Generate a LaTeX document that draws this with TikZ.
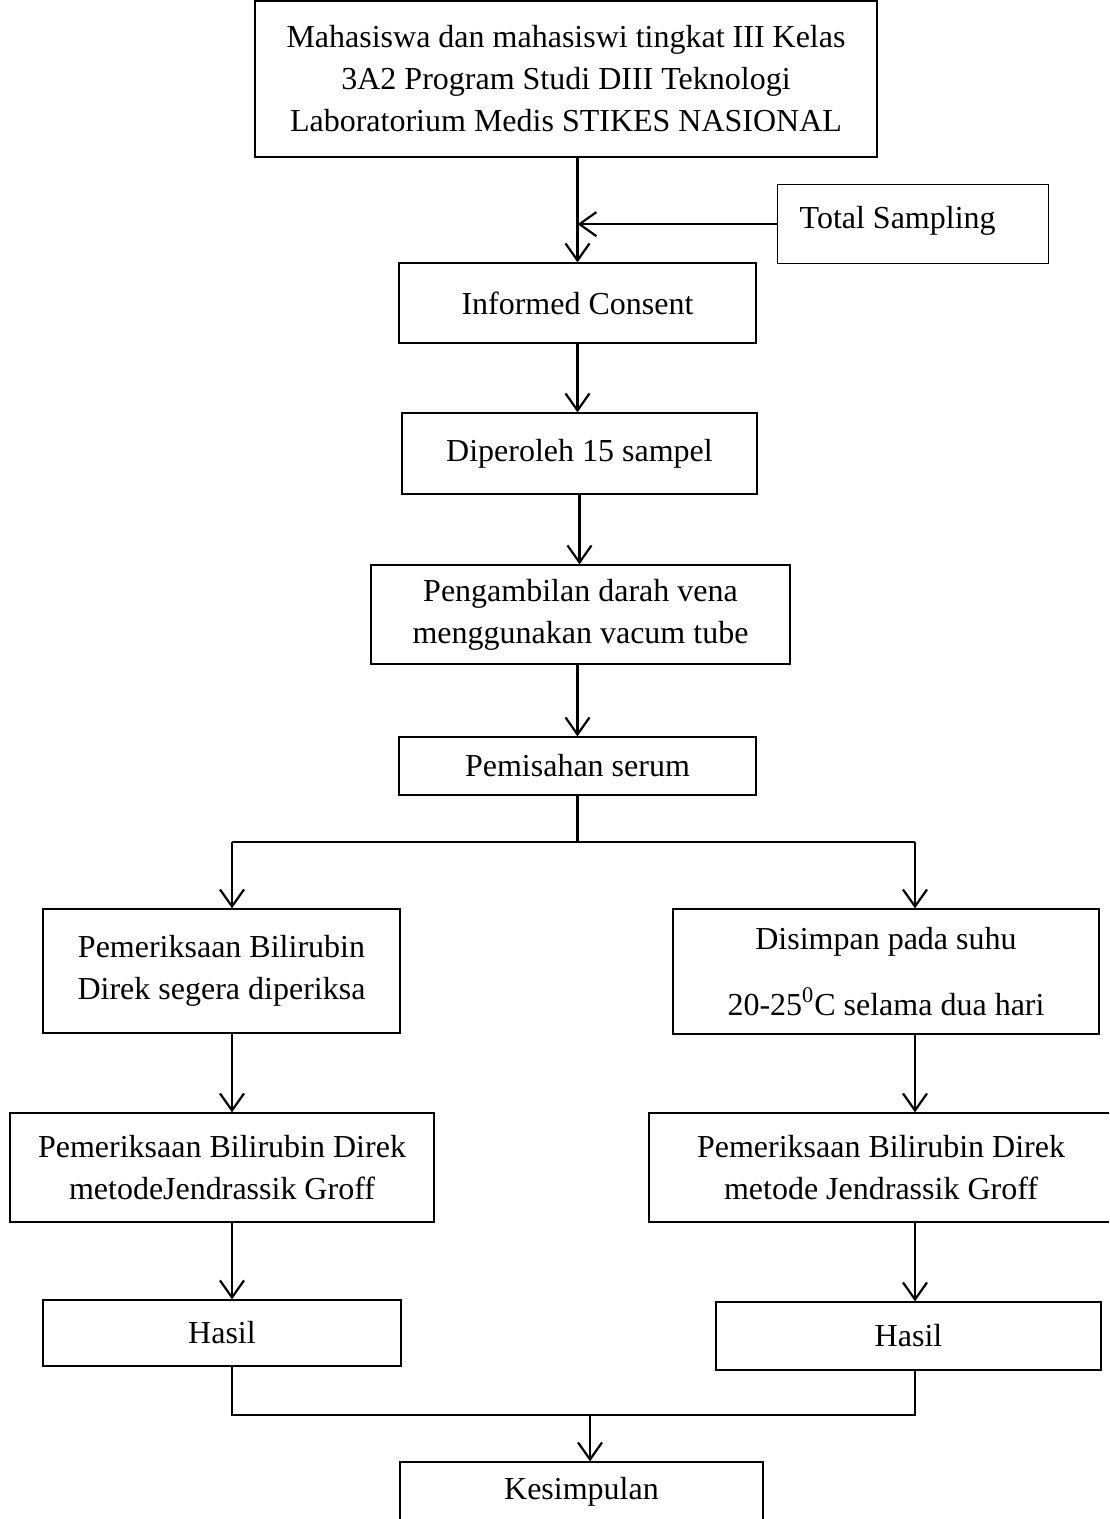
\documentclass[tikz,border=0pt]{standalone}
\usepackage{fontspec}
\setmainfont{Liberation Serif}
\usetikzlibrary{arrows.meta}

\begin{document}
\begin{tikzpicture}[
  x=0.5pt,y=-0.5pt,
  font=\fontsize{16}{21}\selectfont,
  box/.style={draw,line width=0.65pt,align=center,inner sep=0pt},
  ar/.style={-{Straight Barb[length=8.5pt,width=12pt,line width=1.1pt]},line width=1.1pt},
  ln/.style={line width=1.1pt}
]
\useasboundingbox (0,0) rectangle (1109,1519);
\clip (0,0) rectangle (1109,1519);

% Subjects and sampling (top)
\node[box,minimum width=311pt,minimum height=78pt] (subj) at (566,79)
  {Mahasiswa dan mahasiswi tingkat III Kelas\\3A2 Program Studi DIII Teknologi\\Laboratorium Medis STIKES NASIONAL};
\node[box,anchor=north west,align=flush left,inner xsep=11pt,text width=113.5pt,text height=22pt,text depth=17.5pt] (ts) at (777,184) {Total Sampling};

% Preparation steps (middle column)
\node[box,minimum width=178.5pt,minimum height=40pt] (ic) at (577.5,303) {Informed Consent};
\node[box,minimum width=177.5pt,minimum height=40.5pt] (d15) at (579.5,453.5) {Diperoleh 15 sampel};
\node[box,minimum width=209.5pt,minimum height=49.5pt] (peng) at (580.5,614.5) {Pengambilan darah vena\\menggunakan vacum tube};
\node[box,minimum width=178.5pt,minimum height=29pt] (ps) at (577.5,766) {Pemisahan serum};

\draw[ar] (ic.north |- subj.south) -- (ic.north);
\draw[ar] (ts.west) -- (ts.west -| ic.north);
\draw[ar] (ic.south) -- (ic.south |- d15.north);
\draw[ar] (d15.south) -- (d15.south |- peng.north);
\draw[ar] (peng.south -| ps.north) -- (ps.north);

% Split into two branches
\coordinate (lc) at (232,842);
\coordinate (rc) at (915,842);
\draw[ln] (ps.south) -- (ps.south |- lc);
\draw[ln] (lc) -- (rc);

% Left branch
\node[box,minimum width=178.5pt,minimum height=62pt] (l1) at (221.5,971) {Pemeriksaan Bilirubin\\Direk segera diperiksa};
\node[box,minimum width=212pt,minimum height=54.5pt] (l2) at (222,1167.5) {Pemeriksaan Bilirubin Direk\\metodeJendrassik Groff};
\node[box,minimum width=179pt,minimum height=33pt] (hl) at (222,1333) {Hasil};

% Right branch
\node[box,minimum width=213pt,minimum height=62.5pt] (r1) at (886,971.5) {Disimpan pada suhu\\[12pt]20-25\textsuperscript{0}C selama dua hari};
\node[box,minimum width=232pt,minimum height=54.5pt] (r2) at (881,1167.5) {Pemeriksaan Bilirubin Direk\\metode Jendrassik Groff};
\node[box,minimum width=192.5pt,minimum height=34pt] (hr) at (908.5,1336) {Hasil};

\draw[ar] (lc) -- (lc |- l1.north);
\draw[ar] (l1.south -| lc) -- (l2.north -| lc);
\draw[ar] (l2.south -| lc) -- (hl.north -| lc);
\draw[ar] (rc) -- (rc |- r1.north);
\draw[ar] (r1.south -| rc) -- (r2.north -| rc);
\draw[ar] (r2.south -| rc) -- (hr.north -| rc);

% Join (bottom)
\coordinate (join) at (590,1415);
\node[box,minimum width=181.5pt,minimum height=30pt] (ks) at (581.5,1492) {Kesimpulan};
\draw[ln] (hl.south -| lc) |- (join) -| (hr.south -| rc);
\draw[ar] (join) -- (join |- ks.north);
\end{tikzpicture}
\end{document}
